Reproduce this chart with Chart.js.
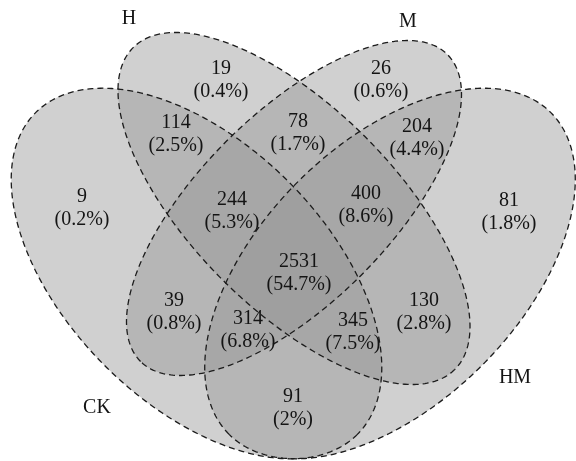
<!DOCTYPE html>
<html>
<head>
<meta charset="utf-8">
<script src="https://cdn.jsdelivr.net/npm/chart.js@4.4.1/dist/chart.umd.min.js"></script>
<style>
  html, body { margin: 0; padding: 0; background: #ffffff; }
  #wrap { width: 576px; height: 461px; }
</style>
</head>
<body>
<div id="wrap"><canvas id="venn" width="576" height="461"></canvas></div>
<script>
// ---- data ----
const setNames = ['CK', 'H', 'M', 'HM'];
const regionSets = ['H', 'M', 'CK', 'HM', 'CK&H', 'H&M', 'M&HM', 'CK&H&M', 'H&M&HM',
                    'CK&H&M&HM', 'CK&M', 'CK&M&HM', 'CK&H&HM', 'H&HM', 'CK&HM'];
const regionCounts = [19, 26, 9, 81, 114, 78, 204, 244, 400, 2531, 39, 314, 345, 130, 91];
const regionPercents = ['0.4%', '0.6%', '0.2%', '1.8%', '2.5%', '1.7%', '4.4%', '5.3%', '8.6%',
                        '54.7%', '0.8%', '6.8%', '7.5%', '2.8%', '2%'];

// ---- layout (pixel-like data units, y downward) ----
const ellipses = {
  CK: { cx: 196.5, cy: 273.5, a: 227.5, b: 130, rot: 45 },
  H:  { cx: 294,   cy: 208.5, a: 227.5, b: 101, rot: 45 },
  M:  { cx: 294,   cy: 208,   a: 217,   b: 95,  rot: 135 },
  HM: { cx: 390,   cy: 273.5, a: 227.5, b: 130, rot: 135 }
};
const setLabelPos = { CK: [97, 408], H: [129, 19], M: [408, 22], HM: [515, 378] };
const regionPos = [
  [221, 69], [381, 69], [82, 197], [509, 201], [176, 123], [298, 122], [417, 127],
  [232, 200], [366, 194], [299, 262], [174, 301], [248, 319], [353, 321], [424, 301], [293, 397]
];
const lineGap = 23;

function ellipsePoints(e, n) {
  const pts = [];
  const r = e.rot * Math.PI / 180;
  for (let i = 0; i <= n; i++) {
    const t = 2 * Math.PI * i / n;
    const ct = Math.cos(t), st = Math.sin(t);
    pts.push({
      x: e.cx + e.a * ct * Math.cos(r) - e.b * st * Math.sin(r),
      y: e.cy + e.a * ct * Math.sin(r) + e.b * st * Math.cos(r)
    });
  }
  return pts;
}

const datasets = setNames.map(name => ({
  label: name,
  data: ellipsePoints(ellipses[name], 360),
  showLine: true,
  fill: 'shape',
  backgroundColor: 'rgba(150,150,150,0.45)',
  borderColor: '#1c1c1c',
  borderWidth: 1.3,
  borderDash: [6, 4],
  pointRadius: 0,
  tension: 0
}));

const textPlugin = {
  id: 'vennText',
  afterDatasetsDraw(chart) {
    const { ctx, scales } = chart;
    ctx.save();
    ctx.fillStyle = '#141414';
    ctx.textAlign = 'center';
    ctx.textBaseline = 'middle';
    ctx.font = '20px "Liberation Serif", "Times New Roman", serif';
    setNames.forEach(name => {
      const p = setLabelPos[name];
      ctx.fillText(name, scales.x.getPixelForValue(p[0]), scales.y.getPixelForValue(p[1]));
    });
    regionCounts.forEach((c, i) => {
      const p = regionPos[i];
      const x = scales.x.getPixelForValue(p[0]);
      const y1 = scales.y.getPixelForValue(p[1]);
      const y2 = scales.y.getPixelForValue(p[1] + lineGap);
      ctx.fillText(String(c), x, y1);
      ctx.fillText('(' + regionPercents[i] + ')', x, y2);
    });
    ctx.restore();
  }
};

new Chart(document.getElementById('venn'), {
  type: 'scatter',
  data: { datasets },
  options: {
    responsive: false,
    maintainAspectRatio: false,
    animation: false,
    devicePixelRatio: 1,
    layout: { padding: 0 },
    plugins: {
      legend: { display: false },
      tooltip: { enabled: false },
      filler: { drawTime: 'beforeDatasetsDraw' }
    },
    scales: {
      x: { type: 'linear', min: 0, max: 576, display: false },
      y: { type: 'linear', min: 0, max: 461, reverse: true, display: false }
    }
  },
  plugins: [textPlugin]
});
</script>
</body>
</html>
